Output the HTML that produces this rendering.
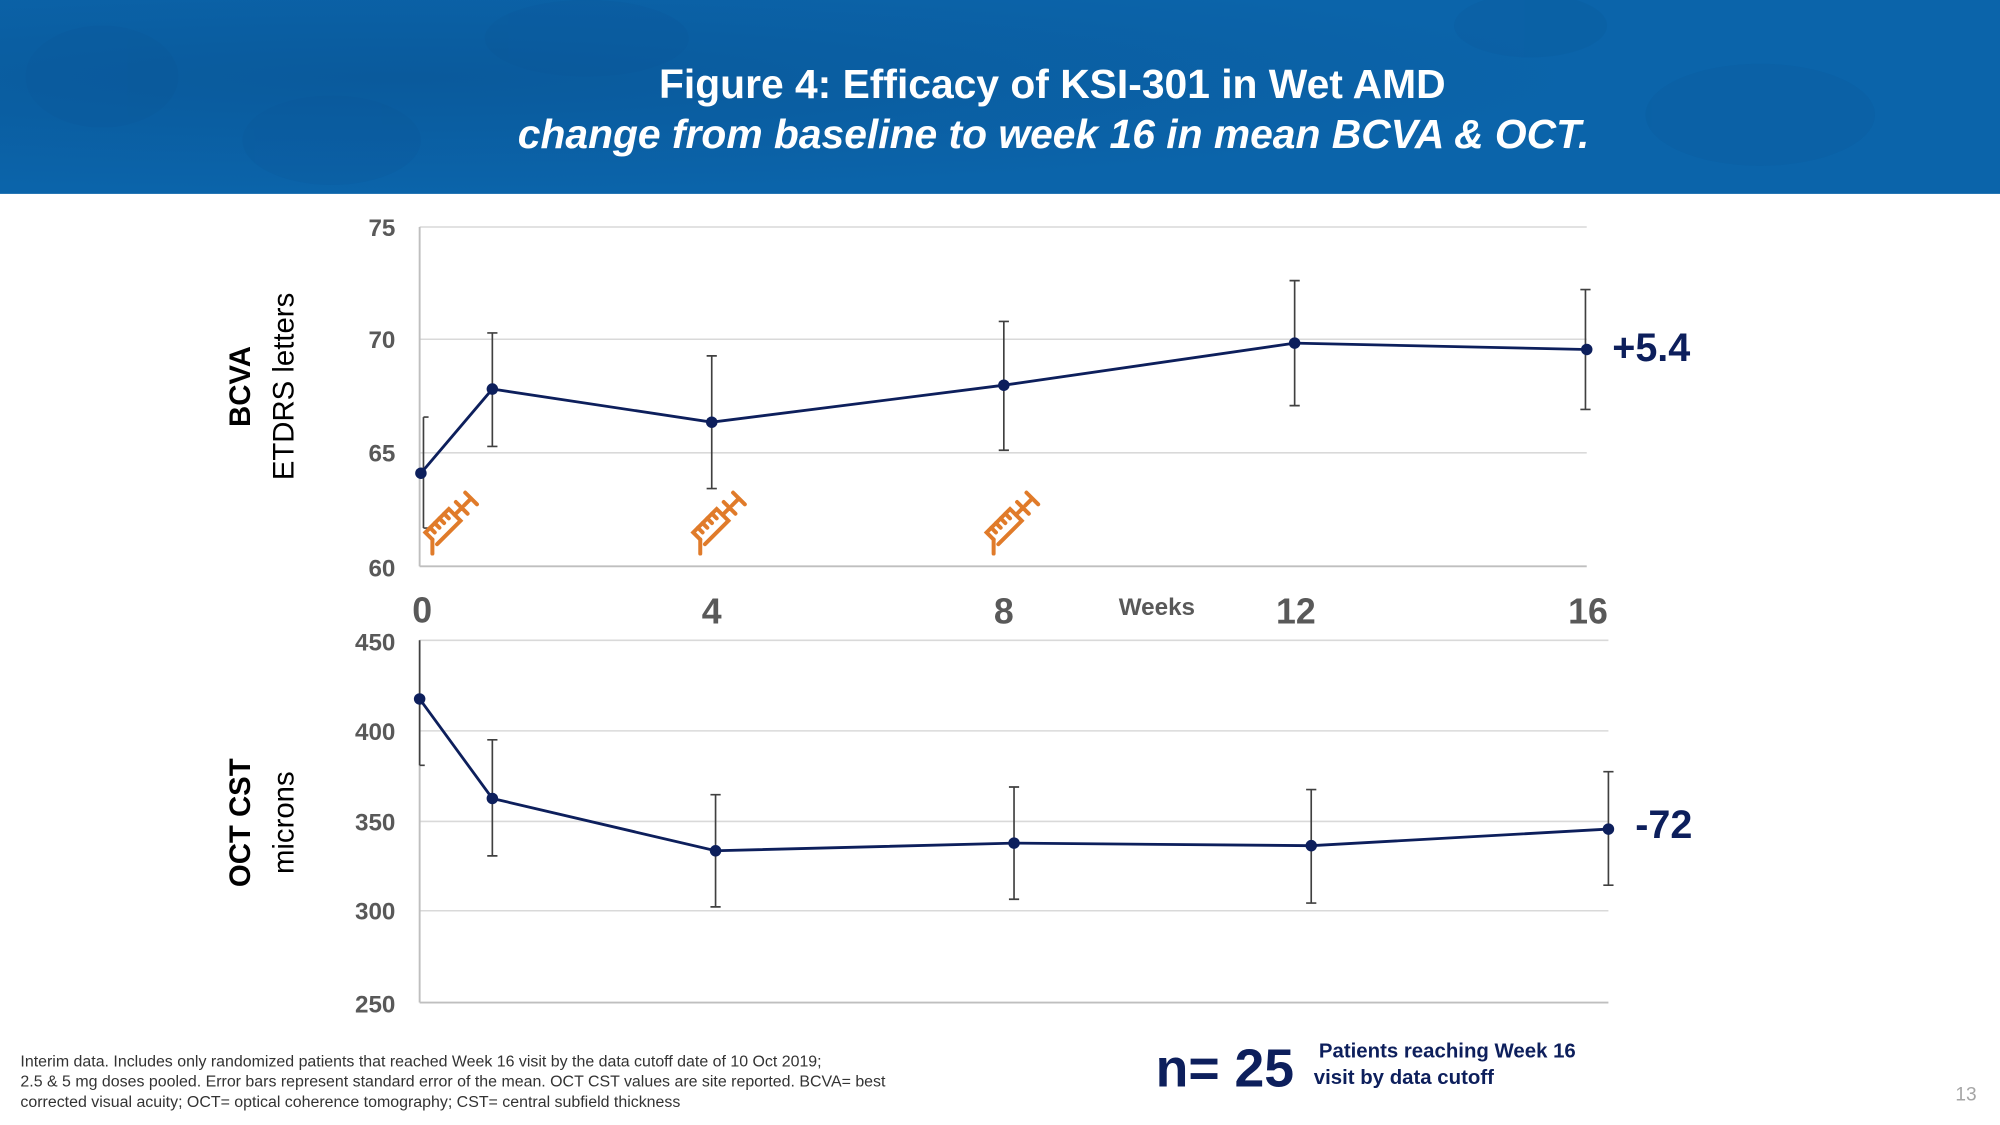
<!DOCTYPE html>
<html><head><meta charset="utf-8"><style>
html,body{margin:0;padding:0;background:#fff;}
svg{display:block;}
text{font-family:"Liberation Sans",Arial,sans-serif;}
</style></head><body>
<svg width="2000" height="1125" viewBox="0 0 1568 882" xmlns="http://www.w3.org/2000/svg">
<defs>
<radialGradient id="g1" cx="0.2" cy="0.4" r="0.6"><stop offset="0" stop-color="#0a5a9c"/><stop offset="1" stop-color="#0b64aa"/></radialGradient>
<g id="syr" fill="none" stroke="#e07b2a" stroke-width="2.4" stroke-linecap="round">
<path d="M0,0 L6,-6"/>
<path d="M6,-6 L6,-12 L26,-12 L26,-2 L6,-2"/>
<path d="M26,-7 L32,-7 M32,-12 L32,-2 M34,-7 L40,-7 M40,-12 L40,-2"/>
<path d="M10,-12 L10,-8 M14,-12 L14,-8 M18,-12 L18,-8 M22,-12 L22,-8"/>
</g>
</defs>
<rect x="0" y="0" width="1568" height="152" fill="url(#g1)"/>
<g fill="#0a5594" opacity="0.18">
<ellipse cx="80" cy="60" rx="60" ry="40"/><ellipse cx="260" cy="110" rx="70" ry="35"/><ellipse cx="460" cy="30" rx="80" ry="30"/><ellipse cx="1380" cy="90" rx="90" ry="40"/><ellipse cx="1200" cy="20" rx="60" ry="25"/>
</g>
<text x="825" y="77" font-size="32" font-weight="bold" fill="#fff" text-anchor="middle">Figure 4: Efficacy of KSI-301 in Wet AMD</text>
<text x="826" y="116" font-size="32" font-weight="bold" font-style="italic" fill="#fff" text-anchor="middle">change from baseline to week 16 in mean BCVA &amp; OCT.</text>

<!-- top chart -->
<g stroke="#d9d9d9" stroke-width="1.2">
<line x1="329" y1="178" x2="1244" y2="178"/><line x1="329" y1="266" x2="1244" y2="266"/><line x1="329" y1="355" x2="1244" y2="355"/>
<line x1="329" y1="444" x2="1244" y2="444" stroke="#bfbfbf" stroke-width="1.5"/>
<line x1="329" y1="178" x2="329" y2="444" stroke="#bfbfbf" stroke-width="1.5"/>
</g>
<g font-size="19" font-weight="bold" fill="#595959" text-anchor="end">
<text x="310" y="185">75</text><text x="310" y="273">70</text><text x="310" y="362">65</text><text x="310" y="452">60</text>
</g>
<g stroke="#404040" stroke-width="1.3" fill="none">
<path d="M332,327V414M332,327h4M332,414h4"/>
<path d="M386,261V350M382,261h8M382,350h8"/>
<path d="M558,279V383M554,279h8M554,383h8"/>
<path d="M787,252V353M783,252h8M783,353h8"/>
<path d="M1015,220V318M1011,220h8M1011,318h8"/>
<path d="M1243,227V321M1239,227h8M1239,321h8"/>
</g>
<polyline points="330,371 386,305 558,331 787,302 1015,269 1244,274" fill="none" stroke="#0d1f5c" stroke-width="2.2"/>
<g fill="#0d1f5c"><circle cx="330" cy="371" r="4.5"/><circle cx="386" cy="305" r="4.5"/><circle cx="558" cy="331" r="4.5"/><circle cx="787" cy="302" r="4.5"/><circle cx="1015" cy="269" r="4.5"/><circle cx="1244" cy="274" r="4.5"/></g>
<use href="#syr" transform="translate(339,434) rotate(-45) scale(1.3)"/>
<use href="#syr" transform="translate(549,434) rotate(-45) scale(1.3)"/>
<use href="#syr" transform="translate(779,434) rotate(-45) scale(1.3)"/>
<text x="1264" y="283" font-size="31" font-weight="bold" fill="#0d1f5c">+5.4</text>

<g font-size="28" font-weight="bold" fill="#595959" text-anchor="middle">
<text x="331" y="488">0</text><text x="558" y="489">4</text><text x="787" y="489">8</text><text x="1016" y="489">12</text><text x="1245" y="489">16</text>
</g>
<text x="907" y="482" font-size="19" font-weight="bold" fill="#595959" text-anchor="middle">Weeks</text>

<text transform="translate(196,303) rotate(-90)" font-size="23" font-weight="bold" fill="#000" text-anchor="middle">BCVA</text>
<text transform="translate(230,303) rotate(-90)" font-size="23" fill="#000" text-anchor="middle">ETDRS letters</text>
<text transform="translate(196,645) rotate(-90)" font-size="23" font-weight="bold" fill="#000" text-anchor="middle">OCT CST</text>
<text transform="translate(230,645) rotate(-90)" font-size="23" fill="#000" text-anchor="middle">microns</text>

<!-- bottom chart -->
<g stroke="#d9d9d9" stroke-width="1.2">
<line x1="329" y1="502" x2="1261" y2="502"/><line x1="329" y1="573" x2="1261" y2="573"/><line x1="329" y1="644" x2="1261" y2="644"/><line x1="329" y1="714" x2="1261" y2="714"/>
<line x1="329" y1="786" x2="1261" y2="786" stroke="#bfbfbf" stroke-width="1.5"/>
<line x1="329" y1="502" x2="329" y2="786" stroke="#bfbfbf" stroke-width="1.5"/>
</g>
<g font-size="19" font-weight="bold" fill="#595959" text-anchor="end">
<text x="310" y="510">450</text><text x="310" y="580">400</text><text x="310" y="651">350</text><text x="310" y="721">300</text><text x="310" y="794">250</text>
</g>
<g stroke="#404040" stroke-width="1.3" fill="none">
<path d="M329,502V600M329,600h4"/>
<path d="M386,580V671M382,580h8M382,671h8"/>
<path d="M561,623V711M557,623h8M557,711h8"/>
<path d="M795,617V705M791,617h8M791,705h8"/>
<path d="M1028,619V708M1024,619h8M1024,708h8"/>
<path d="M1261,605V694M1257,605h8M1257,694h8"/>
</g>
<polyline points="329,548 386,626 561,667 795,661 1028,663 1261,650" fill="none" stroke="#0d1f5c" stroke-width="2.2"/>
<g fill="#0d1f5c"><circle cx="329" cy="548" r="4.5"/><circle cx="386" cy="626" r="4.5"/><circle cx="561" cy="667" r="4.5"/><circle cx="795" cy="661" r="4.5"/><circle cx="1028" cy="663" r="4.5"/><circle cx="1261" cy="650" r="4.5"/></g>
<text x="1282" y="657" font-size="31" font-weight="bold" fill="#0d1f5c">-72</text>

<g font-size="12.5" fill="#333">
<text x="16" y="836">Interim data. Includes only randomized patients that reached Week 16 visit by the data cutoff date of 10 Oct  2019;</text>
<text x="16" y="852">2.5 &amp; 5 mg doses pooled. Error bars represent standard error of the mean. OCT CST values are site reported.  BCVA= best</text>
<text x="16" y="868">corrected visual acuity; OCT= optical coherence tomography; CST= central subfield thickness</text>
</g>
<text x="906" y="852" font-size="42" font-weight="bold" fill="#0d1f5c">n= 25</text>
<text x="1034" y="829" font-size="16" font-weight="bold" fill="#0d1f5c">Patients reaching Week 16</text>
<text x="1030" y="850" font-size="16" font-weight="bold" fill="#0d1f5c">visit by data  cutoff</text>
<text x="1533" y="863" font-size="15" fill="#a6a6a6">13</text>
</svg>
</body></html>
